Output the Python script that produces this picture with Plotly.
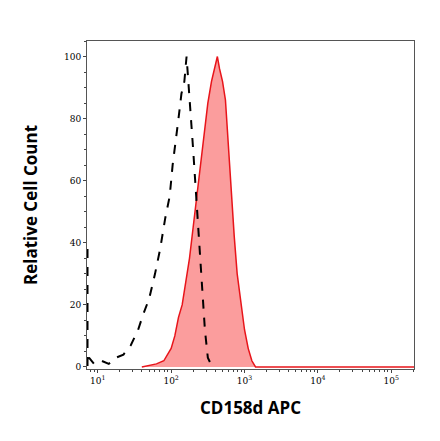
import numpy as np
import plotly.graph_objects as go

# log10 of fluorescence, counts
red_log = [1.6, 1.8, 1.9, 1.95, 2.0, 2.05, 2.1, 2.15, 2.2, 2.25, 2.3, 2.35, 2.4, 2.45, 2.5,
           2.55, 2.6, 2.63, 2.66, 2.7, 2.74, 2.78, 2.82, 2.86, 2.9, 2.95, 3.0, 3.05, 3.1, 3.15, 5.31]
red_cnt = [0, 1, 2, 4, 6, 10, 16, 20, 28, 35, 45, 55, 66, 76, 85,
           92, 97, 100, 96, 92, 86, 70, 55, 42, 30, 20, 12, 6, 2, 0, 0]

blk_log = [0.86, 0.86, 0.88, 0.95, 1.05, 1.15, 1.25, 1.35, 1.45, 1.55, 1.62, 1.7, 1.78, 1.85,
           1.92, 1.98, 2.02, 2.06, 2.1, 2.14, 2.18, 2.21, 2.24, 2.27, 2.3, 2.34, 2.38, 2.42,
           2.46, 2.5, 2.54, 2.58]
blk_cnt = [38, 0, 3, 1, 2, 1, 3, 4, 7, 12, 17, 22, 30, 38, 48, 55, 65, 72, 80, 88, 92, 100,
           88, 80, 70, 55, 40, 25, 12, 3, 1, 0]

fig = go.Figure()
fig.add_trace(go.Scatter(x=10 ** np.array(red_log), y=red_cnt, mode="lines", fill="tozeroy",
                         line=dict(color="#e8141a", width=1.5), fillcolor="rgba(250,140,140,0.85)"))
fig.add_trace(go.Scatter(x=10 ** np.array(blk_log), y=blk_cnt, mode="lines",
                         line=dict(color="black", width=2, dash="dash")))

tick_font = dict(family="DejaVu Serif", size=9, color="black")
title_font = dict(family="Open Sans", size=17, color="black")
fig.update_layout(
    width=440, height=441, showlegend=False,
    paper_bgcolor="white", plot_bgcolor="white",
    margin=dict(l=79, r=34, t=33, b=80),
    xaxis=dict(type="log", range=[0.853, 5.31], showgrid=False, zeroline=False,
               showline=True, linecolor="#555", mirror=True, ticks="outside", ticklen=3,
               tickvals=[10, 100, 1000, 10000, 100000],
               ticktext=["10<sup>1</sup>", "10<sup>2</sup>", "10<sup>3</sup>", "10<sup>4</sup>", "10<sup>5</sup>"],
               tickfont=tick_font,
               minor=dict(ticks="outside", ticklen=2, dtick="D1", showgrid=False),
               title=dict(text="<b>CD158d APC</b>", font=title_font, standoff=17)),
    yaxis=dict(range=[-0.65, 105], showgrid=False, zeroline=False,
               showline=True, linecolor="#555", mirror=True, ticks="outside", ticklen=3,
               tickvals=[0, 20, 40, 60, 80, 100], tickfont=tick_font,
               minor=dict(ticks="outside", ticklen=2, dtick=5, showgrid=False),
               title=dict(text="<b>Relative Cell Count</b>", font=title_font, standoff=22)),
)
fig.write_html("out.html")
